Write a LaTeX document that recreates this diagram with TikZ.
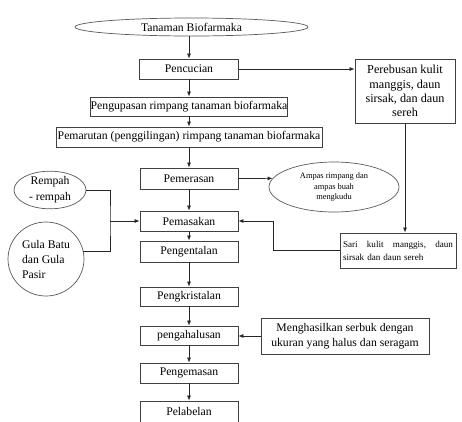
\documentclass[tikz,border=0pt]{standalone}
\usepackage{fontspec}
\setmainfont{Liberation Serif}
\usetikzlibrary{arrows.meta,shapes.geometric}
\tikzset{
  box/.style={draw=black!75, line width=0.8pt, inner sep=0pt, align=center,
    font=\fontsize{11.7}{14}\selectfont},
  oval/.style={draw=black!65, line width=0.7pt, ellipse, inner sep=0pt, align=center,
    font=\fontsize{11.7}{14}\selectfont},
  arr/.style={draw=black!85, line width=0.7pt, -{Latex[length=5pt,width=4pt]}},
  ln/.style={draw=black!85, line width=0.7pt}
}
\begin{document}
\begin{tikzpicture}[x=1pt,y=-1pt]
\useasboundingbox (0,0) rectangle (462,421);
\clip (0,0) rectangle (462,421);
% main column
\node[oval, minimum width=233pt, minimum height=18pt] (tanaman) at (191.5,27) {Tanaman Biofarmaka};
\node[box, minimum width=99pt, minimum height=20pt] (pencucian) at (189,69) {Pencucian};
\node[box, minimum width=191pt, minimum height=19pt] (pengupasan) at (189,106.5) {Pengupasan rimpang tanaman biofarmaka};
\node[box, minimum width=266pt, minimum height=20pt] (pemarutan) at (189,137) {Pemarutan (penggilingan) rimpang tanaman biofarmaka};
\node[box, minimum width=98pt, minimum height=21pt] (pemerasan) at (189,178.5) {Pemerasan};
\node[box, minimum width=98pt, minimum height=20pt] (pemasakan) at (189,221) {Pemasakan};
\node[box, minimum width=98pt, minimum height=21pt] (pengentalan) at (189,251.5) {Pengentalan};
\node[box, minimum width=98pt, minimum height=19pt] (pengkristalan) at (189,296.5) {Pengkristalan};
\node[box, minimum width=98pt, minimum height=19pt] (pengahalusan) at (189,335.5) {pengahalusan};
\node[box, minimum width=98pt, minimum height=20pt] (pengemasan) at (189,373) {Pengemasan};
\node[box, minimum width=98pt, minimum height=26pt, text depth=6pt] (pelabelan) at (189,414) {Pelabelan};
% side nodes
\node[box, minimum width=100pt, minimum height=64pt, font=\fontsize{12.2}{14.3}\selectfont] (perebusan) at (405,91)
  {Perebusan kulit\\ manggis, daun\\ sirsak, dan daun\\ sereh};
\node[box, minimum width=116pt, minimum height=35pt, text width=110pt, align=left,
  font=\fontsize{9.1}{13}\selectfont] (sari) at (398,250.5)
  {Sari\hfill kulit\hfill manggis,\hfill daun\\ sirsak dan daun sereh};
\node[box, minimum width=168pt, minimum height=36pt, font=\fontsize{11.7}{15}\selectfont] (menghasilkan) at (345,336)
  {Menghasilkan serbuk dengan\\ ukuran yang halus dan seragam};
\node[oval, minimum width=130pt, minimum height=50pt, font=\fontsize{8.4}{10.5}\selectfont] (ampas) at (334,187)
  {Ampas rimpang dan\\ ampas buah\\ mengkudu};
\node[oval, minimum width=72pt, minimum height=36pt, font=\fontsize{11.7}{16}\selectfont] (rempah) at (50,190)
  {Rempah\\ - rempah};
\node[oval, minimum width=76pt, minimum height=74pt, align=left, font=\fontsize{11.7}{15}\selectfont] (gula) at (46,259)
  {Gula Batu\\ dan Gula\\ Pasir};
\coordinate (jn) at (110,221);
\coordinate (bend) at (273,221);
% connectors
\draw[arr] (pencucian.north |- tanaman.south) -- (pencucian.north);
\draw[arr] (pencucian) -- (pengupasan);
\draw[arr] (pengupasan) -- (pemarutan);
\draw[arr] (pemarutan) -- (pemerasan);
\draw[arr] (pemerasan) -- (pemasakan);
\draw[arr] (pemasakan) -- (pengentalan);
\draw[arr] (pengentalan) -- (pengkristalan);
\draw[arr] (pengkristalan) -- (pengahalusan);
\draw[arr] (pengahalusan) -- (pengemasan);
\draw[arr] (pengemasan) -- (pelabelan);
\draw[arr] (pencucian.east) -- (pencucian.east -| perebusan.west);
\draw[arr] (perebusan.south) -- (perebusan.south |- sari.north);
\draw[arr] (pemerasan.east) -- (ampas.172);
\draw[ln] (rempah.east) -| (jn) |- (gula.12);
\draw[arr] (jn) -- (pemasakan.west);
\draw[arr] (sari.west) -| (bend) -- (pemasakan.east);
\draw[arr] (menghasilkan.west) -- (menghasilkan.west -| pengahalusan.east);
\end{tikzpicture}
\end{document}
